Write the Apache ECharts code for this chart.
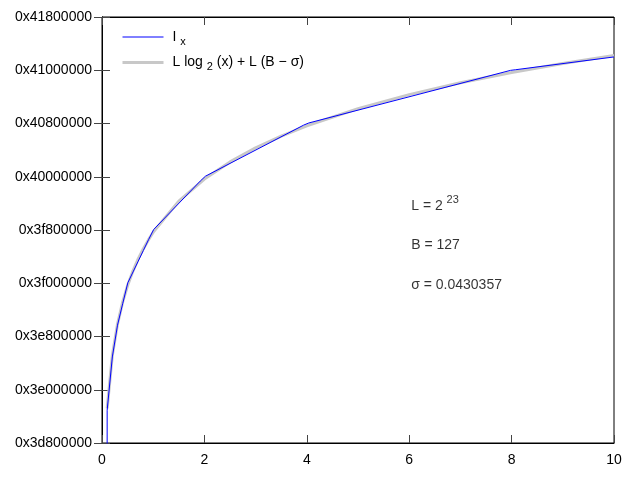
<!DOCTYPE html>
<html>
<head>
<meta charset="utf-8">
<script src="https://cdn.jsdelivr.net/npm/echarts@6/dist/echarts.min.js"></script>
<style>html,body{margin:0;padding:0;background:#fff}#c{width:640px;height:480px}</style>
</head>
<body>
<div id="c"></div>
<script>
// values expressed in units of L = 2^23 (axis labels show value*L in hex)
const L = 8388608;
const xTicks = [0, 2, 4, 6, 8, 10];
const yTickLabels = ['0x3d800000','0x3e000000','0x3e800000','0x3f000000','0x3f800000','0x40000000','0x40800000','0x41000000','0x41800000'];

const ixX = [0, 0.101, 0.202, 0.303, 0.404, 0.505, 0.606, 0.707, 0.808, 0.909, 1.010, 1.919, 2.020, 3.939, 4.040, 7.980, 8.081, 10];
const ixY = [0, 123.616, 124.616, 125.212, 125.616, 126.010, 126.212, 126.414, 126.616, 126.818, 127.010, 127.919, 128.010, 128.970, 129.010, 129.998, 130.010, 130.250];

const logX = [0.101, 0.202, 0.303, 0.404, 0.505, 0.606, 0.707, 0.808, 0.909, 1.01, 1.5, 2, 2.5, 3, 3.5, 4, 5, 6, 7, 8, 9, 10];
const logY = [123.649, 124.649, 125.234, 125.649, 125.971, 126.234, 126.457, 126.649, 126.819, 126.971, 127.542, 127.957, 128.279, 128.542, 128.764, 128.957, 129.279, 129.542, 129.764, 129.957, 130.127, 130.279];

const notes = [
  [6, 127.45, '{n|L = 2 }{sup|23}'],
  [6, 126.71, '{n|B = 127}'],
  [6, 125.97, '{n|σ = 0.0430357}']
];

const FONT = 'Liberation Sans, Arial, sans-serif';
const chart = echarts.init(document.getElementById('c'));
const baseX = {type:'value', min:0, max:10, interval:2, axisLine:{show:true,lineStyle:{color:'#000',width:1}}, splitLine:{show:false}, axisTick:{inside:true,length:8,lineStyle:{color:'#444'}}};
const baseY = {type:'value', min:123, max:131, interval:1, axisLine:{show:true,lineStyle:{color:'#000',width:1}}, splitLine:{show:false}, axisTick:{inside:true,length:8,lineStyle:{color:'#444'}}};
chart.setOption({
  animation:false,
  grid:{left:102, right:26, top:17, bottom:37, show:true, borderColor:'#000', borderWidth:1},
  legend:{
    left:116, top:25, orient:'vertical', itemWidth:41, itemHeight:14, itemGap:8.5,
    data:[{name:'Ix', lineStyle:{width:1, color:'#0000ff'}}, {name:'log', lineStyle:{width:3, color:'#c8c8c8'}}],
    itemStyle:{opacity:0},
    textStyle:{fontFamily:FONT, fontSize:14, color:'#000', padding:[0,0,0,4],
      rich:{n:{fontFamily:FONT,fontSize:14,color:'#000'}, sub:{fontFamily:FONT,fontSize:11,color:'#000',verticalAlign:'bottom',lineHeight:20}}},
    formatter:function(name){ return name==='Ix' ? '{n|I }{sub|x}' : '{n|L log }{sub|2}{n| (x) + L (B − σ)}'; }
  },
  xAxis:[
    Object.assign({}, baseX, {position:'bottom', axisLabel:{fontFamily:FONT,fontSize:14,color:'#000',margin:10}}),
    Object.assign({}, baseX, {position:'top', axisLabel:{show:false}})
  ],
  yAxis:[
    Object.assign({}, baseY, {position:'left', axisLabel:{fontFamily:FONT,fontSize:14,color:'#000',margin:10,
      formatter:function(v){ const i = Math.round(v-123); return yTickLabels[i]; }}}),
    Object.assign({}, baseY, {position:'right', axisLabel:{show:false}})
  ],
  series:[
    {name:'log', type:'line', data:logX.map((x,i)=>[x,logY[i]]), showSymbol:false, symbol:'none', clip:true, z:2,
     lineStyle:{color:'#c8c8c8', width:3}, itemStyle:{color:'#c8c8c8'}},
    {name:'Ix', type:'line', data:ixX.map((x,i)=>[x,ixY[i]]), showSymbol:false, symbol:'none', clip:true, z:3,
     lineStyle:{color:'#0000ff', width:1}, itemStyle:{color:'#0000ff'}},
    {name:'notes', type:'scatter', symbolSize:0, data:notes, silent:true, z:4,
     label:{show:true, position:'right', distance:2, formatter:function(p){return p.data[2];},
       rich:{n:{fontFamily:FONT,fontSize:14,color:'#000'}, sup:{fontFamily:FONT,fontSize:11,color:'#000',verticalAlign:'top',lineHeight:24}}}}
  ]
});
</script>
</body>
</html>
